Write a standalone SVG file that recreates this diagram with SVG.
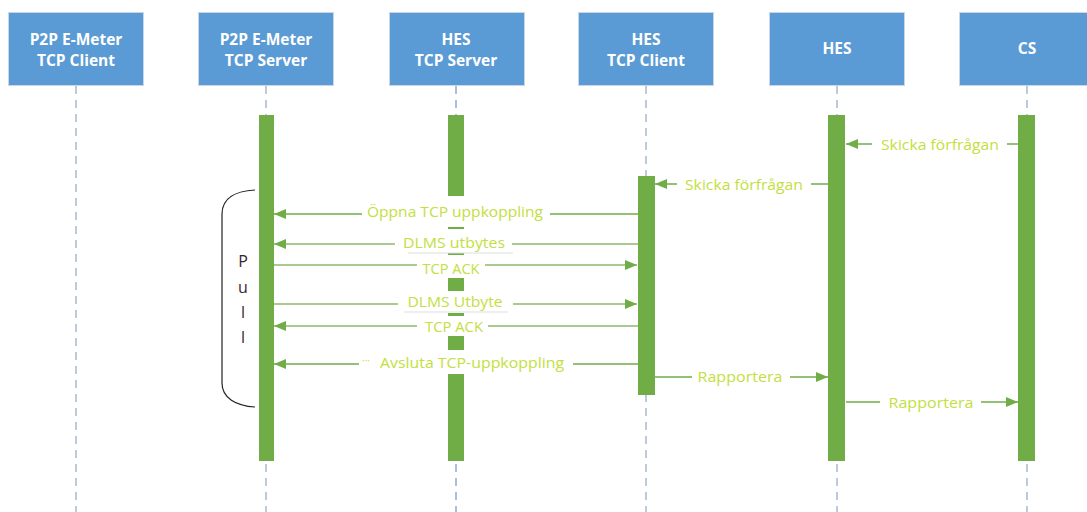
<svg xmlns="http://www.w3.org/2000/svg" width="1087" height="512" viewBox="0 0 1087 512">
<style>
.box{fill:#5B9BD5;stroke:#C9D6E6;stroke-width:1}
.ht{font-family:"Open Sans","Liberation Sans",sans-serif;font-weight:700;font-size:15.5px;fill:#FFFFFF;text-anchor:middle}
.life{stroke:#A8B9D0;stroke-width:1.5;stroke-dasharray:8 6;fill:none}
.bar{fill:#70AD47}
.msg{stroke:#70AD47;stroke-width:1.6;fill:none}
.msgl{stroke:#8DBA6A;stroke-width:1.6;fill:none}
.lbg{fill:#FFFFFF}
.lt{font-family:"Open Sans","Liberation Sans",sans-serif;font-size:14px;fill:#C2E040;text-anchor:middle;dominant-baseline:central}
.pull{font-family:"Open Sans","Liberation Sans",sans-serif;font-size:16px;fill:#3A2432;text-anchor:middle}
</style>
<defs>
<marker id="ah" viewBox="0 0 12 10" refX="12" refY="5" markerWidth="12" markerHeight="10" markerUnits="userSpaceOnUse" orient="auto">
<path d="M0,0 L12,5 L0,10 Z" fill="#70AD47"/>
</marker>
</defs>
<rect width="1087" height="512" fill="#FFFFFF"/>

<g id="node-p2p-client">
<line class="life" x1="76" y1="86" x2="76" y2="512"/>
<rect class="box" x="8.5" y="12.5" width="135" height="73"/>
<text class="ht" x="76" y="45">P2P E-Meter</text>
<text class="ht" x="76" y="66">TCP Client</text>
</g>

<g id="node-p2p-server">
<line class="life" x1="266" y1="86" x2="266" y2="512"/>
<rect class="box" x="198.5" y="12.5" width="135" height="73"/>
<text class="ht" x="266" y="45">P2P E-Meter</text>
<text class="ht" x="266" y="66">TCP Server</text>
<rect class="bar" x="259" y="115" width="15" height="346"/>
</g>

<g id="node-hes-server">
<line class="life" x1="456" y1="86" x2="456" y2="512" style="stroke:#8FA9D4"/>
<rect class="box" x="389.5" y="12.5" width="135" height="73"/>
<text class="ht" x="456" y="45">HES</text>
<text class="ht" x="456" y="66">TCP Server</text>
<rect class="bar" x="448" y="115" width="16" height="346"/>
</g>

<g id="node-hes-client">
<line class="life" x1="646" y1="86" x2="646" y2="512"/>
<rect class="box" x="578.5" y="12.5" width="135" height="73"/>
<text class="ht" x="646" y="45">HES</text>
<text class="ht" x="646" y="66">TCP Client</text>
<rect class="bar" x="638" y="176" width="17" height="219"/>
</g>

<g id="node-hes">
<line class="life" x1="837" y1="86" x2="837" y2="512"/>
<rect class="box" x="769.5" y="12.5" width="135" height="73"/>
<text class="ht" x="837" y="54">HES</text>
<rect class="bar" x="828" y="115" width="17" height="346"/>
</g>

<g id="node-cs">
<line class="life" x1="1027" y1="86" x2="1027" y2="512"/>
<rect class="box" x="959.5" y="12.5" width="135" height="73"/>
<text class="ht" x="1027" y="54">CS</text>
<rect class="bar" x="1018" y="115" width="17" height="346"/>
</g>

<g id="pull">
<path d="M255,190 C236,191 222,198 222,214 L222,383 C222,398 236,406 255,407" fill="none" stroke="#222222" stroke-width="1.2"/>
<text class="pull" x="243" y="267">P</text>
<text class="pull" x="243" y="293">u</text>
<text class="pull" x="243" y="318">l</text>
<text class="pull" x="243" y="343">l</text>
</g>

<g id="connectors">
<line class="msg" x1="1018" y1="144" x2="846" y2="144" marker-end="url(#ah)"/>
<rect class="lbg" x="872" y="134" width="135" height="20"/>
<text class="lt" x="940" y="144" textLength="118" lengthAdjust="spacingAndGlyphs">Skicka förfrågan</text>

<line class="msg" x1="828" y1="184" x2="655" y2="184" marker-end="url(#ah)"/>
<rect class="lbg" x="677" y="174" width="134" height="20"/>
<text class="lt" x="744" y="184" textLength="118" lengthAdjust="spacingAndGlyphs">Skicka förfrågan</text>

<line class="msg" x1="638" y1="214" x2="274" y2="214" marker-end="url(#ah)"/>
<rect class="lbg" x="362" y="196" width="188" height="31"/>
<text class="lt" x="455" y="211" textLength="176" lengthAdjust="spacingAndGlyphs">Öppna TCP uppkoppling</text>

<line class="msgl" x1="638" y1="244" x2="274" y2="244" marker-end="url(#ah)"/>
<rect class="lbg" x="395" y="229" width="117" height="24"/>
<line x1="408" y1="253" x2="513" y2="253" stroke="#DDDDDD" stroke-width="1"/>
<text class="lt" x="454" y="242" textLength="102" lengthAdjust="spacingAndGlyphs">DLMS utbytes</text>

<line class="msgl" x1="274" y1="265" x2="637" y2="265" marker-end="url(#ah)"/>
<rect class="lbg" x="417" y="255" width="68" height="23"/>
<text class="lt" x="451" y="268" textLength="57" lengthAdjust="spacingAndGlyphs">TCP ACK</text>

<line class="msgl" x1="274" y1="304" x2="637" y2="304" marker-end="url(#ah)"/>
<rect class="lbg" x="398" y="291" width="115" height="22"/>
<line x1="404" y1="312" x2="508" y2="312" stroke="#DDDDDD" stroke-width="1"/>
<text class="lt" x="455" y="301" textLength="95" lengthAdjust="spacingAndGlyphs">DLMS Utbyte</text>

<line class="msgl" x1="638" y1="326" x2="274" y2="326" marker-end="url(#ah)"/>
<rect class="lbg" x="417" y="316" width="71" height="20"/>
<text class="lt" x="454" y="326" textLength="58" lengthAdjust="spacingAndGlyphs">TCP ACK</text>

<line class="msg" x1="638" y1="364" x2="274" y2="364" marker-end="url(#ah)"/>
<rect class="lbg" x="359" y="350" width="214" height="24"/>
<text class="lt" x="366" y="360" style="font-size:10px">···</text>
<text class="lt" x="472" y="362" textLength="184" lengthAdjust="spacingAndGlyphs">Avsluta TCP-uppkoppling</text>

<line class="msg" x1="655" y1="377" x2="828" y2="377" marker-end="url(#ah)"/>
<rect class="lbg" x="692" y="367" width="98" height="20"/>
<text class="lt" x="740" y="376" textLength="85" lengthAdjust="spacingAndGlyphs">Rapportera</text>

<line class="msg" x1="846" y1="402" x2="1018" y2="402" marker-end="url(#ah)"/>
<rect class="lbg" x="880" y="392" width="101" height="20"/>
<text class="lt" x="931" y="402" textLength="85" lengthAdjust="spacingAndGlyphs">Rapportera</text>
</g>
</svg>
